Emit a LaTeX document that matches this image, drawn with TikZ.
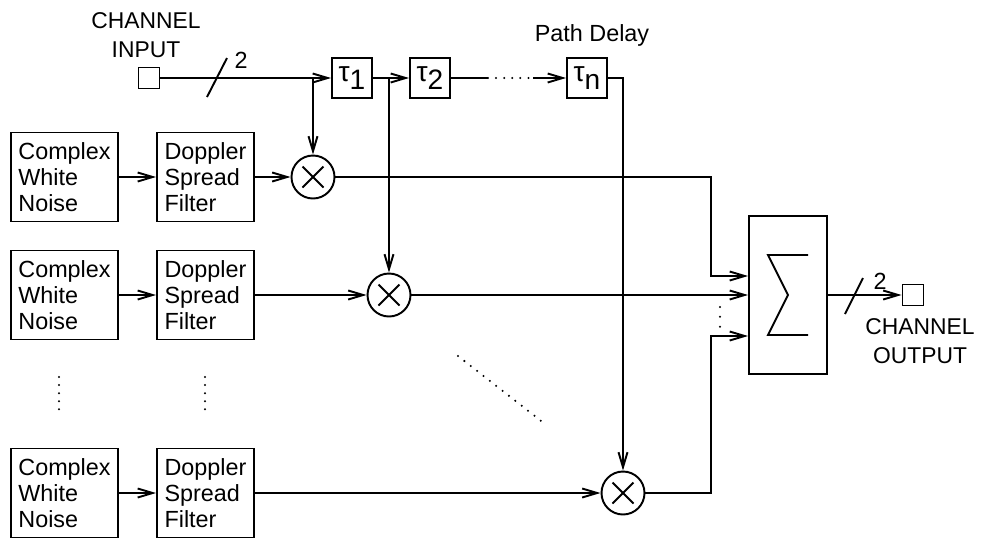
\documentclass[tikz,border=0pt]{standalone}
\usepackage{fontspec}
\setmainfont{Liberation Sans}
\usetikzlibrary{arrows.meta}

\newcommand{\dly}[1]{\fontsize{16}{16}\selectfont τ\raisebox{-5pt}{#1}}

\begin{document}
\begin{tikzpicture}[line width=1.1pt,>={Straight Barb[length=3mm,width=1.8mm]},
  every node/.style={font=\fontsize{13.3}{14.7}\selectfont},
  blk/.style={draw,align=left,minimum height=1.78cm,inner sep=0pt},
  delay/.style={draw,minimum size=0.8cm,inner sep=0pt},
  port/.style={draw,minimum size=0.42cm,inner sep=0pt},
  mult/.style={draw,circle,minimum size=0.86cm,inner sep=0pt,path picture={
    \draw (path picture bounding box.center) ++(-0.21,-0.21) -- ++(0.42,0.42)
          (path picture bounding box.center) ++(-0.21,0.21) -- ++(0.42,-0.42);}},
  dotline/.style={line width=1.3pt,line cap=round,dash pattern=on 0pt off 4.6pt}]
  \useasboundingbox (0,0) rectangle (19.62,-10.84);

  % channel input and delay line
  \node[port] (cin) at (2.98,-1.56) {};
  \node[align=center,font=\fontsize{13}{16.4}\selectfont] (cinlbl) at (2.92,-0.71) {CHANNEL\\INPUT};
  \node[delay] (t1) at (7.04,-1.56) {\dly{1}};
  \node[delay] (t2) at (8.60,-1.56) {\dly{2}};
  \node[delay] (tn) at (11.74,-1.56) {\dly{n}};
  \node (pd) at (11.84,-0.70) {Path Delay};

  % noise and filter branches
  \foreach \i/\y in {1/-3.54,2/-5.90,3/-9.86} {
    \node[blk,minimum width=2.14cm] (wn\i) at (1.29,\y) {Complex\\White\\Noise};
    \node[blk,minimum width=1.94cm] (dsf\i) at (4.11,\y) {Doppler\\Spread\\Filter};
    \draw[->] (wn\i) -- (dsf\i);
  }
  \node[mult] (m1) at (6.26,-3.54) {};
  \node[mult] (m2) at (7.78,-5.90) {};
  \node[mult] (m3) at (12.46,-9.86) {};
  \foreach \i in {1,2,3}
    \draw[->] (dsf\i) -- (m\i);

  % summer and output
  \node[draw,minimum width=1.56cm,minimum height=3.16cm] (sum) at (15.76,-5.90) {};
  \draw (sum.center) ++(0.4,0.8) -- ++(-0.8,0) -- ++(0.4,-0.8) -- ++(-0.4,-0.8) -- ++(0.8,0);
  \node[port] (cout) at (18.26,-5.90) {};
  \node[align=center,font=\fontsize{13}{16.4}\selectfont] (coutlbl) at (18.40,-6.83) {CHANNEL\\OUTPUT};

  \coordinate (j1) at (6.26,-1.56);
  \coordinate (j2) at (7.78,-1.56);
  \coordinate (g1) at (9.76,-1.56);
  \coordinate (g2) at (10.66,-1.56);
  \coordinate (c1) at (14.22,-5.52);
  \coordinate (c3) at (14.22,-6.72);

  \draw[->] (cin) -- (t1);
  \draw (4.14,-1.94) -- (4.54,-1.16);
  \node (w1) at (4.82,-1.20) {2};
  \draw[->] (j1) -- (m1);
  \draw[->] (t1) -- (t2);
  \draw[->] (j2) -- (m2);
  \draw (t2) -- (g1);
  \draw[dotline] (g1) -- (g2);
  \draw[->] (g2) -- (tn);
  \draw[->] (tn) -| (m3);

  \draw[->] (m1) -| (c1) -- (c1 -| sum.west);
  \draw[->] (m2) -- (sum.west);
  \draw[->] (m3) -| (c3) -- (c3 -| sum.west);
  \draw[dotline,dash pattern=on 0pt off 5.6pt] (14.40,-6.14) -- (14.40,-6.54);

  \draw[->] (sum) -- (cout);
  \draw (16.90,-6.28) -- (17.26,-5.56);
  \node (w2) at (17.60,-5.62) {2};

  % omitted branches
  \draw[dotline] (1.18,-7.54) -- (1.18,-8.20);
  \draw[dotline] (4.10,-7.54) -- (4.10,-8.20);
  \draw[dotline] (9.16,-7.12) -- (10.90,-8.48);
\end{tikzpicture}
\end{document}
